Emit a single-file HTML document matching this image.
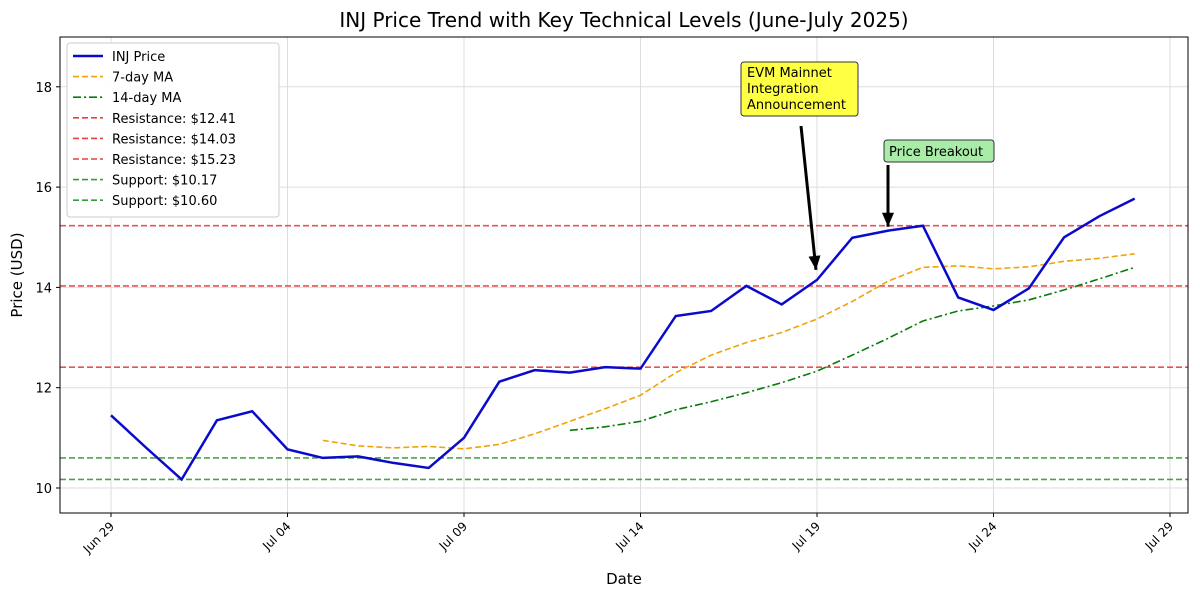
<!DOCTYPE html>
<html><head><meta charset="utf-8"><style>
body{margin:0;background:#fff;font-family:"Liberation Sans",sans-serif}
svg text{font-family:"DejaVu Sans","Liberation Sans",sans-serif}
</style></head><body>
<svg id="c" width="1200" height="597"></svg>
<script>
const dates=["Jun 29","Jun 30","Jul 01","Jul 02","Jul 03","Jul 04","Jul 05","Jul 06","Jul 07","Jul 08","Jul 09","Jul 10","Jul 11","Jul 12","Jul 13","Jul 14","Jul 15","Jul 16","Jul 17","Jul 18","Jul 19","Jul 20","Jul 21","Jul 22","Jul 23","Jul 24","Jul 25","Jul 26","Jul 27","Jul 28"];
const price=[11.45,10.8,10.17,11.35,11.53,10.77,10.6,10.63,10.5,10.4,11.0,12.12,12.35,12.3,12.41,12.38,13.43,13.53,14.03,13.66,14.15,14.99,15.13,15.23,13.8,13.55,13.98,15.0,15.42,15.77];
const ma7Start=6;
const ma7=[10.95,10.84,10.8,10.83,10.78,10.87,11.08,11.33,11.58,11.85,12.3,12.65,12.9,13.1,13.37,13.72,14.12,14.4,14.43,14.37,14.41,14.52,14.58,14.67];
const ma14Start=13;
const ma14=[11.15,11.22,11.33,11.56,11.72,11.9,12.1,12.33,12.65,12.98,13.33,13.53,13.63,13.75,13.95,14.17,14.4];
const resistance=[12.41,14.03,15.23];
const support=[10.17,10.60];
const yTicks=[10,12,14,16,18];
const xTickIdx=[0,5,10,15,20,25,30];
const xTickLabels=["Jun 29","Jul 04","Jul 09","Jul 14","Jul 19","Jul 24","Jul 29"];
const L=60,R=1188,T=37,B=513;
const X=i=>111+i*35.3;
const Y=v=>488-(v-10)*50.15;
const s=document.getElementById('c');const NS="http://www.w3.org/2000/svg";
function el(t,a,p){const e=document.createElementNS(NS,t);for(const k in a)e.setAttribute(k,a[k]);(p||s).appendChild(e);return e;}
// grid
yTicks.forEach(v=>{const g=el('line',{x1:L,x2:R,y1:Y(v),y2:Y(v),stroke:'#ddd','stroke-width':1});

const t=el('text',{x:L-8,y:Y(v)+5,'text-anchor':'end','font-size':13});t.textContent=v;

el('line',{x1:L-4,x2:L,y1:Y(v),y2:Y(v),stroke:'#000'});});
xTickIdx.forEach((d,k)=>{const x=X(d);const g=el('line',{x1:x,x2:x,y1:T,y2:B,stroke:'#ddd'});

el('line',{x1:x,x2:x,y1:B,y2:B+4,stroke:'#000'});
const t=el('text',{x:x+4,y:B+14,'text-anchor':'end','font-size':12,transform:`rotate(-45 ${x+4} ${B+14})`});t.textContent=xTickLabels[k];
});
resistance.forEach(v=>{const l=el('line',{x1:L,x2:R,y1:Y(v),y2:Y(v),stroke:'#e8403f','stroke-width':1.6,'stroke-dasharray':'6,3','opacity':0.9});
});
support.forEach(v=>{const l=el('line',{x1:L,x2:R,y1:Y(v),y2:Y(v),stroke:'#3a9a3a','stroke-width':1.6,'stroke-dasharray':'6,3','opacity':0.9});
});
function pl(arr,start,attrs,name){const p=el('polyline',Object.assign({points:arr.map((v,i)=>X(i+start)+','+Y(v)).join(' '),fill:'none'},attrs));
}
pl(ma7,ma7Start,{stroke:'#f0a30a','stroke-width':1.6,'stroke-dasharray':'6,3'},'ma7-line');
pl(ma14,ma14Start,{stroke:'#0a7a0a','stroke-width':1.6,'stroke-dasharray':'8,3,2,3'},'ma14-line');
pl(price,0,{stroke:'#0a0acc','stroke-width':2.5},'price-line');
el('rect',{x:L,y:T,width:R-L,height:B-T,fill:'none',stroke:'#000','stroke-width':1});
// annotations
function arrow(x1,y1,x2,y2,name){const a=el('line',{x1,y1,x2,y2,stroke:'#000','stroke-width':3});
const ang=Math.atan2(y2-y1,x2-x1),h=14,w=6;const bx=x2-h*Math.cos(ang),by=y2-h*Math.sin(ang);
el('polygon',{points:`${x2},${y2} ${bx+w*Math.sin(ang)},${by-w*Math.cos(ang)} ${bx-w*Math.sin(ang)},${by+w*Math.cos(ang)}`,fill:'#000'});}
arrow(801,126,X(20)-1,Y(14.15)-10,'evm-arrow');
arrow(888,165,888,Y(15.13)-4,'breakout-arrow');
el('rect',{x:741,y:62,width:117,height:54,rx:3,fill:'#ffff44',stroke:'#333'});
["EVM Mainnet","Integration","Announcement"].forEach((t,i)=>{const e=el('text',{x:747,y:77+i*16,'font-size':13});e.textContent=t;});
el('rect',{x:884,y:140,width:110,height:22,rx:3,fill:'#a8eca8',stroke:'#333'});
{const e=el('text',{x:889,y:156,'font-size':13});e.textContent="Price Breakout";}
// legend
const lg=el('g',{});
el('rect',{x:67,y:43,width:212,height:174,rx:3,fill:'#fff',stroke:'#ccc','opacity':0.95},lg);
const items=[["INJ Price",'#0a0acc','',2.5],["7-day MA",'#f0a30a','6,3',1.6],["14-day MA",'#0a7a0a','8,3,2,3',1.6],["Resistance: $12.41",'#e8403f','6,3',1.6],["Resistance: $14.03",'#e8403f','6,3',1.6],["Resistance: $15.23",'#e8403f','6,3',1.6],["Support: $10.17",'#3a9a3a','6,3',1.6],["Support: $10.60",'#3a9a3a','6,3',1.6]];
items.forEach((it,i)=>{const y=56+i*20.6;const g=el('g',{},lg);
el('line',{x1:73,x2:103,y1:y,y2:y,stroke:it[1],'stroke-width':it[3],'stroke-dasharray':it[2]},g);
const t=el('text',{x:112,y:y+5,'font-size':13},g);t.textContent=it[0];});
const ti=el('text',{x:624,y:27,'text-anchor':'middle','font-size':20});ti.textContent="INJ Price Trend with Key Technical Levels (June-July 2025)";
const xt=el('text',{x:624,y:584,'text-anchor':'middle','font-size':15});xt.textContent="Date";
const yt=el('text',{x:22,y:275,'text-anchor':'middle','font-size':15,transform:'rotate(-90 22 275)'});yt.textContent="Price (USD)";
</script>
</body></html>
